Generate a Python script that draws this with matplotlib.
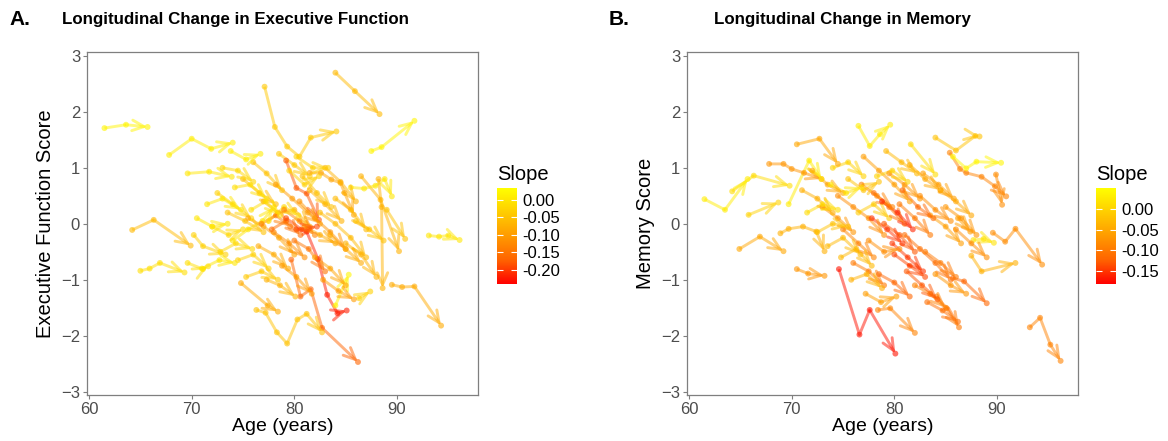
import numpy as np
import matplotlib
matplotlib.use("Agg")
import matplotlib.pyplot as plt
from matplotlib.colors import LinearSegmentedColormap, Normalize
from matplotlib.cm import ScalarMappable

plt.rcParams['font.family'] = ['Liberation Sans', 'DejaVu Sans']

# ---- panel A: executive function trajectories (age, score, slope) ----
ef_age = [
    [61.5, 63.6, 65.7], [67.8, 70.0, 71.9, 74.0], [69.6, 71.7, 73.9],
    [77.1, 78.1, 79.3, 80.5, 81.6, 84.1], [84.0, 85.9, 88.3], [87.5, 88.5, 91.7],
    [93.1, 94.1, 95.0, 96.1], [89.5, 90.5, 91.7, 94.3], [86.5, 88.4, 90.2],
    [89.0, 90.8], [80.2, 81.2, 82.3, 83.2, 84.2, 85.1], [79.7, 80.6, 81.6, 82.7, 86.2],
    [84.0, 85.3], [76.3, 77.2, 78.3, 79.3, 80.3, 81.2, 82.7], [86.3, 87.4],
    [64.2, 66.3, 69.9], [65.0, 65.9, 66.9, 69.3], [69.6, 71.1, 71.6],
    [79.2, 80.2, 81.2, 82.4], [81.5, 82.6, 83.6, 84.5, 84.9, 85.8],
    [85.5, 86.8, 87.9, 88.8, 89.5], [88.2, 88.5, 88.6], [70.2, 71.1, 73.3],
    [74.8, 77.4, 78.4],
    [72.5, 74.0, 75.8], [73.5, 75.2, 77.0], [74.0, 75.5, 76.9, 78.0], [75.0, 76.6, 78.2],
    [75.5, 77.0, 78.5, 80.0], [76.0, 77.3, 78.8], [76.5, 78.0, 79.4], [77.0, 78.4, 80.0, 81.5],
    [77.5, 79.0, 80.4], [78.0, 79.5, 81.0], [78.2, 79.8, 81.3, 82.5], [78.8, 80.2, 81.7],
    [79.0, 80.5, 82.0], [79.5, 81.0, 82.4], [80.0, 81.4, 83.0], [80.5, 82.0, 83.5, 85.0],
    [81.0, 82.5, 84.0], [81.5, 83.0, 84.6], [82.0, 83.5, 85.0], [82.5, 84.0, 85.5, 87.0],
    [83.0, 84.5, 86.0], [83.5, 85.0, 86.5], [84.0, 85.5, 87.0], [72.0, 73.6, 75.0],
    [71.5, 73.0, 74.8], [73.0, 74.5, 76.0], [74.5, 76.0, 77.5], [76.8, 78.2, 79.6],
    [77.8, 79.2, 80.6], [79.2, 80.7, 82.2], [75.8, 77.2, 78.6], [80.8, 82.2, 83.6],
    [74.2, 75.7, 77.3], [72.8, 74.3, 75.9], [82.8, 84.3, 85.8], [77.3, 78.6, 80.1],
    [75.3, 76.8, 78.4], [78.5, 80.0, 81.5], [85.0, 86.5, 88.0], [86.0, 87.3, 88.7],
    [70.5, 72.0, 73.5], [71.0, 72.7, 74.2], [73.8, 75.3, 76.7], [80.2, 81.8, 83.3],
]
ef_score = [
    [1.71, 1.77, 1.73], [1.23, 1.52, 1.34, 1.45], [0.90, 0.93, 0.84],
    [2.45, 1.73, 1.38, 1.20, 1.54, 1.65], [2.70, 2.37, 1.96], [1.30, 1.37, 1.84],
    [-0.21, -0.23, -0.21, -0.29], [-1.09, -1.13, -1.12, -1.82], [0.85, 0.43, -0.49],
    [0.25, -0.27], [-0.10, -0.14, -0.63, -1.27, -1.60, -1.55], [-0.64, -1.30, -1.17, -1.86, -2.47],
    [-1.46, -0.91], [-1.54, -1.59, -1.94, -2.14, -1.71, -1.61, -1.94], [-1.33, -1.21],
    [-0.11, 0.07, -0.39], [-0.84, -0.80, -0.70, -0.87], [-0.70, -0.81, -0.76],
    [1.13, 0.64, 0.54, 0.07], [0.91, 0.91, 0.79, 0.73, 0.55, 0.16],
    [0.65, 0.63, 0.68, 0.80, 0.49], [0.80, 0.30, -1.15], [-0.20, -0.40, -0.55],
    [-1.06, -1.46, -1.57],
    [0.55, 0.35, 0.10], [0.20, 0.05, -0.15], [-0.30, -0.10, 0.05, 0.30], [0.80, 0.55, 0.35],
    [0.10, -0.05, -0.25, -0.55], [1.10, 0.90, 0.60], [-0.40, -0.55, -0.80], [0.40, 0.20, 0.25, -0.05],
    [0.05, 0.30, 0.15], [-0.15, -0.35, -0.60], [0.70, 0.45, 0.20, 0.00], [-0.75, -0.95, -1.25],
    [0.25, 0.05, -0.20], [0.95, 0.70, 0.85], [-0.30, -0.45, -0.85], [0.40, 0.10, -0.15, -0.45],
    [-0.05, -0.20, -0.35], [0.60, 0.35, 0.05], [-0.60, -0.80, -1.10], [0.20, 0.00, -0.25, -0.60],
    [1.00, 0.75, 0.40], [-0.20, -0.45, -0.70], [0.45, 0.25, -0.10], [-0.05, -0.20, -0.10],
    [0.35, 0.45, 0.25], [1.00, 0.95, 0.75], [-0.65, -0.55, -0.80], [0.00, 0.15, -0.05],
    [-0.10, 0.05, -0.20], [0.10, -0.10, -0.05], [0.25, 0.40, 0.15], [0.85, 0.55, 0.30],
    [0.65, 0.70, 0.45], [-0.50, -0.35, -0.45], [-1.00, -1.20, -1.35], [-1.00, -1.10, -1.30],
    [-0.95, -0.85, -1.00], [1.25, 1.05, 0.85], [-0.35, -0.55, -0.95], [0.05, -0.10, -0.30],
    [0.10, -0.05, 0.00], [-0.80, -0.65, -0.70], [1.30, 1.15, 1.25], [1.20, 1.00, 1.00],
]
ef_slope = [
    0.02, 0.01, 0.0, -0.04, -0.06, 0.02, 0.0, -0.08, -0.07, -0.05, -0.22, -0.17,
    0.02, -0.05, -0.03, -0.06, -0.01, -0.01, -0.18, -0.09, 0.0, -0.07, -0.03, -0.08,
    -0.03, -0.05, 0.0, -0.06, -0.09, -0.05, -0.08, -0.07, -0.02, -0.12, -0.10, -0.10,
    -0.13, -0.03, -0.15, -0.11, -0.08, -0.07, -0.09, -0.06, -0.07, -0.08, -0.06, -0.02,
    0.0, -0.02, -0.03, -0.14, -0.16, -0.19, -0.01, -0.05, -0.01, -0.02, -0.10, -0.07,
    -0.04, -0.04, -0.07, -0.05, 0.0, 0.0, 0.01, -0.03,
]

# ---- panel B: memory trajectories ----
mem_age = [
    [61.5, 63.5, 65.7], [64.2, 66.3, 69.8], [65.8, 68.7], [70.5, 72.7, 74.5],
    [67.8, 69.2, 70.0, 71.2, 72.9], [69.7, 71.7, 72.9], [76.5, 77.6, 78.6, 79.6],
    [84.0, 86.0, 87.9, 88.3], [85.4, 86.4, 87.0, 88.5, 89.8, 90.9], [85.7, 87.0, 88.0, 90.4],
    [89.9, 90.5], [81.6, 84.0], [89.6, 90.8, 91.8, 94.4], [87.5, 88.5, 91.8],
    [93.2, 94.2, 95.2, 96.2], [74.6, 76.6, 77.6, 80.1], [85.7, 86.8, 89.0],
    [78.4, 79.6, 82.0], [84.1, 85.1, 86.3], [87.7, 88.7, 89.7], [86.2, 87.4],
    [64.9, 66.9, 69.2], [70.5, 71.6, 73.2], [68.9, 69.7, 71.1, 72.4, 73.2],
    [71.0, 72.5, 74.0], [72.0, 73.5, 75.0], [73.0, 74.5, 76.0], [73.5, 75.0, 76.7],
    [74.0, 75.5, 77.0], [74.5, 76.0, 77.5, 79.0], [75.0, 76.5, 78.0], [75.5, 77.0, 78.5],
    [76.0, 77.5, 79.0], [76.5, 78.0, 79.5], [77.0, 78.5, 80.0, 81.5], [77.5, 79.0, 80.5],
    [78.0, 79.5, 81.0], [78.5, 80.0, 81.5], [79.0, 80.5, 82.0], [79.5, 81.0, 82.5],
    [80.0, 81.5, 83.0], [80.5, 82.0, 83.5], [81.0, 82.5, 84.0, 85.5], [81.5, 83.0, 84.5],
    [82.0, 83.5, 85.0], [82.5, 84.0, 85.5], [83.0, 84.5, 86.0], [83.5, 85.0, 86.5],
    [84.0, 85.5, 87.0], [72.5, 74.0, 75.5], [71.5, 73.0, 74.5], [76.8, 78.3, 79.8],
    [77.8, 79.3, 80.8], [78.8, 80.3, 81.8], [79.8, 81.3, 82.8], [80.8, 82.3, 83.8],
    [75.8, 77.3, 78.8], [74.8, 76.3, 77.8], [82.8, 84.3, 85.8], [85.0, 86.5, 88.0],
    [86.0, 87.5, 89.0], [73.8, 75.3, 76.8], [79.2, 80.7, 82.2], [81.2, 82.7, 84.2],
    [83.2, 84.7, 86.2], [77.2, 78.7, 80.2], [84.5, 86.0, 87.5], [78.3, 79.8, 81.3],
]
mem_score = [
    [0.44, 0.25, 0.80], [0.58, 0.86, 0.68], [0.16, 0.38], [1.42, 1.52, 1.07],
    [1.07, 1.07, 0.98, 0.91, 0.80], [0.35, 1.13, 0.80], [1.75, 1.39, 1.60, 1.77],
    [1.54, 1.31, 1.57, 1.56], [1.27, 0.98, 0.91, 0.84, 0.67, 0.49], [1.20, 0.99, 1.11, 1.09],
    [0.88, 0.34], [1.42, 0.88], [-0.16, -0.32, -0.09, -0.73], [-0.57, -0.85, -0.70],
    [-1.85, -1.68, -2.16, -2.45], [-0.81, -1.98, -1.54, -2.32], [-0.97, -1.03, -1.42],
    [-1.54, -1.51, -1.95], [-1.30, -1.51, -1.85], [-0.29, -0.27, -0.34], [0.10, -0.14],
    [-0.45, -0.23, -0.49], [-0.81, -0.89, -0.93], [-0.17, -0.09, -0.05, -0.14, -0.49],
    [0.60, 0.45, 0.20], [0.95, 0.70, 0.55], [0.30, 0.10, -0.15], [-0.40, -0.25, -0.55],
    [1.00, 1.10, 0.85], [0.50, 0.30, 0.10, -0.20], [-0.10, -0.35, -0.60], [0.80, 0.60, 0.75],
    [-0.70, -0.85, -1.10], [0.20, 0.35, 0.10], [1.20, 0.95, 0.70, 0.40], [-0.30, -0.50, -0.45],
    [0.55, 0.30, 0.00], [-0.90, -1.05, -1.30], [0.00, -0.20, -0.50], [0.90, 0.70, 0.45],
    [-0.55, -0.75, -0.95], [0.35, 0.10, -0.20], [-0.20, -0.45, -0.70, -1.00], [1.05, 0.80, 0.60],
    [-1.10, -1.25, -1.50], [0.50, 0.25, 0.05], [-0.50, -0.70, -0.95], [0.15, -0.05, -0.35],
    [-0.90, -1.10, -1.25], [-0.15, 0.00, -0.05], [0.20, 0.35, 0.25], [0.70, 0.50, 0.30],
    [0.10, -0.10, -0.35], [0.40, 0.20, -0.10], [-0.35, -0.60, -0.85], [0.60, 0.30, 0.10],
    [-1.00, -0.90, -1.15], [-0.60, -0.45, -0.75], [0.90, 0.70, 0.45], [0.30, 0.10, -0.20],
    [-0.10, -0.35, -0.60], [0.70, 0.55, 0.65], [1.30, 1.10, 0.90], [-0.85, -1.10, -1.35],
    [-1.40, -1.55, -1.75], [-1.25, -1.40, -1.30], [0.60, 0.40, 0.15], [0.85, 0.95, 0.75],
]
mem_slope = [
    0.03, 0.01, 0.0, -0.05, -0.07, 0.03, 0.03, -0.02, -0.09, 0.04, -0.08, 0.01,
    -0.08, -0.04, -0.09, -0.17, -0.12, -0.09, -0.10, 0.02, -0.06, -0.05, -0.07, -0.04,
    -0.04, -0.05, -0.07, -0.03, 0.0, -0.08, -0.09, -0.02, -0.10, -0.01, -0.06, -0.08,
    -0.11, -0.12, -0.13, -0.07, -0.14, -0.10, -0.11, -0.05, -0.09, -0.08, -0.10, -0.06,
    -0.07, -0.02, 0.01, -0.09, -0.15, -0.16, -0.15, -0.12, -0.04, -0.03, -0.06, -0.07,
    -0.08, 0.02, -0.03, -0.13, -0.11, -0.06, -0.05, 0.0,
]

cmap = LinearSegmentedColormap.from_list(
    "slope", ["#FF0000", "#FF6300", "#FF9A00", "#FFCD00", "#FFFF00"])


def draw_panel(ax, ages, scores, slopes, norm):
    for a, s, sl in zip(ages, scores, slopes):
        c = cmap(norm(sl))
        if len(a) > 2:
            ax.plot(a[:-1], s[:-1], color=c, lw=2.1, alpha=0.5, solid_capstyle='butt')
        ax.annotate('', xy=(a[-1], s[-1]), xytext=(a[-2], s[-2]),
                    arrowprops=dict(arrowstyle='->,head_length=0.85,head_width=0.38',
                                    color=c, lw=2.1, alpha=0.5, shrinkA=0, shrinkB=0))
        ax.scatter(a, s, s=18, color=c, alpha=0.6, edgecolors='none', zorder=3)
    ax.set_xlim(59.8, 97.9)
    ax.set_ylim(-3.06, 3.07)
    ax.set_xticks([60, 70, 80, 90])
    ax.set_yticks([-3, -2, -1, 0, 1, 2, 3])
    for sp in ax.spines.values():
        sp.set_color('#7f7f7f')
        sp.set_linewidth(0.9)
    ax.tick_params(colors='#7f7f7f', labelcolor='#4d4d4d', labelsize=12, length=3, pad=2)
    ax.set_xlabel('Age (years)', fontsize=14, labelpad=1)


def draw_bar(rect, norm, ticks):
    cax = fig.add_axes(rect)
    cb = fig.colorbar(ScalarMappable(norm=norm, cmap=cmap), cax=cax, ticks=ticks)
    cb.outline.set_visible(False)
    cax.tick_params(direction='in', left=True, right=True, color='white',
                    length=4, width=0.8, labelsize=12, pad=4)
    cax.set_yticklabels(['%.2f' % t for t in ticks])
    cax.set_title('Slope', loc='left', fontsize=14.5, pad=6)


fig = plt.figure(figsize=(11.68, 4.41), dpi=100)
axA = fig.add_axes([0.0745, 0.1043, 0.3348, 0.7778])
axB = fig.add_axes([0.5882, 0.1043, 0.3348, 0.7778])

normA = Normalize(-0.24, 0.034)
normB = Normalize(-0.181, 0.051)
draw_panel(axA, ef_age, ef_score, ef_slope, normA)
draw_panel(axB, mem_age, mem_score, mem_slope, normB)
axA.set_ylabel('Executive Function Score', fontsize=14.5, labelpad=4)
axB.set_ylabel('Memory Score', fontsize=14.5, labelpad=4)

draw_bar([0.4255, 0.356, 0.0171, 0.2177], normA, [0.0, -0.05, -0.10, -0.15, -0.20])
draw_bar([0.9384, 0.356, 0.0171, 0.2177], normB, [0.0, -0.05, -0.10, -0.15])

fig.text(0.008, 0.955, 'A.', fontsize=15, fontweight='bold', va='center')
fig.text(0.053, 0.955, 'Longitudinal Change in Executive Function', fontsize=12.2,
         fontweight='bold', va='center')
fig.text(0.521, 0.955, 'B.', fontsize=15, fontweight='bold', va='center')
fig.text(0.611, 0.955, 'Longitudinal Change in Memory', fontsize=12.2,
         fontweight='bold', va='center')

fig.savefig('out.png', dpi=100)
